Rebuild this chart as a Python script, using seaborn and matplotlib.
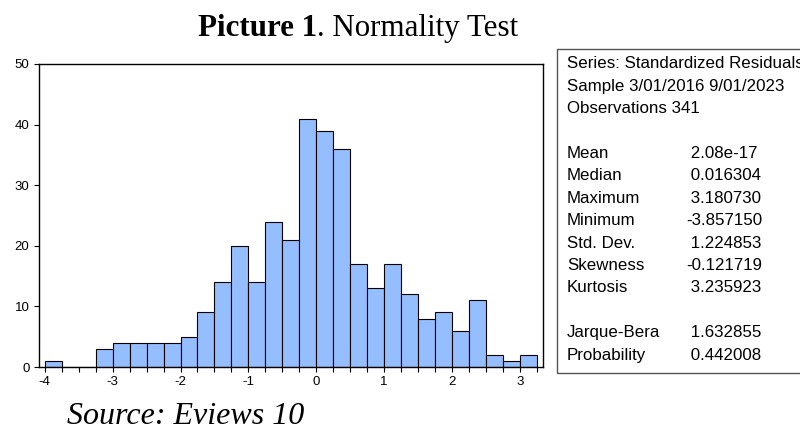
import numpy as np
import pandas as pd
import matplotlib
matplotlib.use("Agg")
import matplotlib.pyplot as plt
from matplotlib.patches import Rectangle
import seaborn as sns

# ---- data ----
bin_starts = [-4.00, -3.75, -3.50, -3.25, -3.00, -2.75, -2.50, -2.25, -2.00, -1.75,
              -1.50, -1.25, -1.00, -0.75, -0.50, -0.25, 0.00, 0.25, 0.50, 0.75,
              1.00, 1.25, 1.50, 1.75, 2.00, 2.25, 2.50, 2.75, 3.00]
counts = [1, 0, 0, 3, 4, 4, 4, 4, 5, 9,
          14, 20, 14, 24, 21, 41, 39, 36, 17, 13,
          17, 12, 8, 9, 6, 11, 2, 1, 2]
bin_width = 0.25
x_tick_values = [-4, -3, -2, -1, 0, 1, 2, 3]
y_tick_values = [0, 10, 20, 30, 40, 50]

header_lines = ["Series: Standardized Residuals",
                "Sample 3/01/2016 9/01/2023",
                "Observations 341"]
stat_names = ["Mean", "Median", "Maximum", "Minimum", "Std. Dev.",
              "Skewness", "Kurtosis", "", "Jarque-Bera", "Probability"]
stat_values = ["2.08e-17", "0.016304", "3.180730", "-3.857150", "1.224853",
               "-0.121719", "3.235923", "", "1.632855", "0.442008"]

title_bold = "Picture 1"
title_rest = ". Normality Test"
source_text = "Source: Eviews 10"

# ---- style ----
sns.set_style("ticks")
plt.rcParams["font.family"] = ["Liberation Sans", "DejaVu Sans"]
plt.rcParams["axes.unicode_minus"] = False
plt.rcParams["text.color"] = "black"
plt.rcParams["xtick.color"] = "black"
plt.rcParams["ytick.color"] = "black"

W, H = 800, 429
fig = plt.figure(figsize=(W / 100, H / 100), dpi=100)

def fx(px):
    return px / W

def fy(py):
    return 1 - py / H

ax = fig.add_axes([fx(39), fy(367), fx(543) - fx(39), fy(64) - fy(367)])

edges = [float(b) for b in bin_starts] + [bin_starts[-1] + bin_width]
df = pd.DataFrame({"center": [b + bin_width / 2 for b in bin_starts],
                   "count": [float(c) for c in counts]})

sns.histplot(data=df, x="center", weights="count", bins=edges, ax=ax,
             color="#94BEFF", edgecolor="black", linewidth=0.8, alpha=1.0)

ax.set_xlim(-4.085, 3.34)
ax.set_ylim(0, 50)
ax.set_xticks(x_tick_values)
ax.set_xticklabels([str(v) for v in x_tick_values], fontsize=9.5)
ax.set_xticks(edges, minor=True)
ax.set_yticks(y_tick_values)
ax.set_yticklabels([str(v) for v in y_tick_values], fontsize=9.5)
ax.tick_params(axis="both", which="both", direction="out", length=3.8,
               width=0.8, color="black", labelcolor="black")
ax.tick_params(axis="x", pad=3)
ax.tick_params(axis="y", pad=3)
ax.set_xlabel("")
ax.set_ylabel("")
for s in ax.spines.values():
    s.set_visible(True)
    s.set_color("black")
    s.set_linewidth(1.0)
ax.set_facecolor("white")

# ---- statistics box ----
box = Rectangle((fx(556.5), fy(373)), fx(806) - fx(556.5), fy(49) - fy(373),
                transform=fig.transFigure, fill=False, edgecolor="#555555",
                linewidth=1.0, clip_on=False)
fig.patches.append(box)

fs_box = 12.2
step = 22.4
y0 = 64
for i, line in enumerate(header_lines):
    fig.text(fx(567), fy(y0 + i * step), line, fontsize=fs_box,
             ha="left", va="center", color="black")
for j, (name, val) in enumerate(zip(stat_names, stat_values)):
    if not name:
        continue
    yy = fy(y0 + (j + 4) * step)
    fig.text(fx(567), yy, name, fontsize=fs_box, ha="left", va="center", color="black")
    shown = val if val.startswith("-") else " " + val
    fig.text(fx(686), yy, shown, fontsize=fs_box, ha="left", va="center", color="black")

# ---- title and source ----
serif = ["Liberation Serif", "DejaVu Serif"]
fig.text(fx(317), fy(36), title_bold, fontsize=22.3, fontweight="bold",
         family=serif, ha="right", va="baseline", color="black")
fig.text(fx(317), fy(36), title_rest, fontsize=22.3,
         family=serif, ha="left", va="baseline", color="black")
fig.text(fx(67), fy(424), source_text, fontsize=23, style="italic",
         family=serif, ha="left", va="baseline", color="black")

fig.savefig("out.png", dpi=100)
